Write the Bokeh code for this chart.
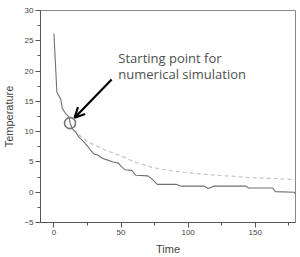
from bokeh.plotting import figure
from bokeh.models import Label, Arrow, OpenHead, FixedTicker
from bokeh.embed import file_html
from bokeh.resources import INLINE

# measured temperature (solid)
t_meas = [0, 2.2, 5, 6.3, 8.7, 11.2, 12, 13.5, 16, 19, 22, 25, 28, 30, 33, 36, 40, 44, 48,
          50, 53, 58, 61, 70, 73, 77, 91, 95, 112, 115, 119, 143, 145, 163, 165, 179, 180]
y_meas = [26.2, 16.5, 15.4, 13.8, 13.0, 12.45, 11.5, 10.5, 10.0, 9.0, 8.4, 7.6, 6.8, 6.3, 6.1,
          5.6, 5.3, 5.0, 4.8, 4.3, 3.7, 3.6, 2.8, 2.7, 2.2, 1.3, 1.3, 1.0, 1.0, 0.6, 1.0, 1.0,
          0.7, 0.7, 0.1, 0.0, -0.3]

# numerical simulation (dashed)
t_sim = [12, 15, 20, 25, 30, 35, 40, 50, 60, 73, 85, 97, 110, 122, 135, 147, 160, 170, 180]
y_sim = [11.3, 10.2, 9.2, 8.4, 7.8, 7.3, 6.8, 6.0, 5.0, 4.1, 3.6, 3.3, 3.0, 2.8, 2.6, 2.4,
         2.3, 2.2, 2.1]

start_t = [12]
start_y = [11.4]

x_ticks = [0, 50, 100, 150]
y_ticks = [-5, 0, 5, 10, 15, 20, 25, 30]

p = figure(width=300, height=257, x_range=(-10, 180), y_range=(-5, 30),
           output_backend="svg", toolbar_location=None,
           min_border_left=38, min_border_right=5, min_border_top=10, min_border_bottom=31)
p.background_fill_color = "white"
p.border_fill_color = "white"
p.outline_line_color = "#888888"
p.outline_line_width = 1
p.grid.visible = False

for ax in (p.xaxis[0], p.yaxis[0]):
    ax.axis_line_color = "#555555"
    ax.major_tick_line_color = "#555555"
    ax.minor_tick_line_color = "#555555"
    ax.major_tick_in = 0
    ax.major_tick_out = 5
    ax.minor_tick_in = 0
    ax.minor_tick_out = 3
    ax.major_label_text_font = "Liberation Sans"
    ax.major_label_text_font_size = "8px"
    ax.major_label_text_color = "#444444"
    ax.axis_label_text_font = "Liberation Sans"
    ax.axis_label_text_font_size = "11px"
    ax.axis_label_text_font_style = "normal"
    ax.axis_label_text_color = "#444444"
    ax.major_label_standoff = 2

p.xaxis.ticker = FixedTicker(ticks=x_ticks, minor_ticks=[25, 75, 125, 175])
p.yaxis.ticker = FixedTicker(ticks=y_ticks,
                             minor_ticks=[-2.5, 2.5, 7.5, 12.5, 17.5, 22.5, 27.5])
p.xaxis.axis_label = "Time"
p.yaxis.axis_label = "Temperature"
p.xaxis.axis_label_standoff = 5
p.yaxis.axis_label_standoff = 6

p.line(t_sim, y_sim, line_color="#c4c4c4", line_width=1.2, line_dash="4 3")
p.line(t_meas, y_meas, line_color="#707070", line_width=1.1)
p.scatter(start_t, start_y, size=11, fill_color=None, line_color="#777777", line_width=1.6)

p.add_layout(Arrow(end=OpenHead(size=10, line_width=2.2, line_color="black"),
                   x_start=43, y_start=18.6, x_end=15.4, y_end=12.3,
                   line_width=2.2, line_color="black"))

p.add_layout(Label(x=48, y=22.2, text="Starting point for", text_font="Open Sans",
                   text_font_size="13px", text_color="#505050", text_baseline="alphabetic"))
p.add_layout(Label(x=48, y=19.5, text="numerical simulation", text_font="Open Sans",
                   text_font_size="13px", text_color="#505050", text_baseline="alphabetic"))

open("out.html", "w").write(file_html(p, INLINE))
